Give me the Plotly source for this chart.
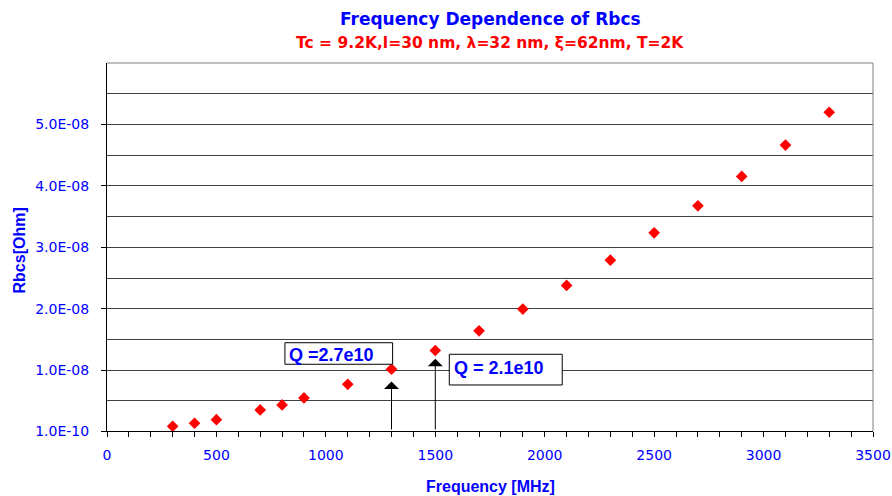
import plotly.graph_objects as go

# Surface resistance vs frequency
freq_mhz = [300, 400, 500, 700, 800, 900, 1100, 1300, 1500, 1700, 1900,
            2100, 2300, 2500, 2700, 2900, 3100, 3300]
rbcs_ohm = [8.7e-10, 1.36e-9, 1.94e-9, 3.53e-9, 4.34e-9, 5.48e-9, 7.7e-9,
            1.016e-8, 1.32e-8, 1.64e-8, 1.995e-8, 2.38e-8, 2.79e-8,
            3.235e-8, 3.676e-8, 4.154e-8, 4.664e-8, 5.198e-8]

y_tickvals = [1e-10, 1e-8, 2e-8, 3e-8, 4e-8, 5e-8]
y_ticktext = ["1.0E-10", "1.0E-08", "2.0E-08", "3.0E-08", "4.0E-08", "5.0E-08"]
y_halfgrid = [0.5e-8, 1.5e-8, 2.5e-8, 3.5e-8, 4.5e-8, 5.5e-8]

# Quality-factor callouts: arrow frequency and tip, box extents, label anchor
q_labels = ["Q =2.7e10", "Q = 2.1e10"]
q_freq = [1300, 1500]
q_tip = [0.814e-8, 1.185e-8]
q_box_x0 = [813, 1564]
q_box_x1 = [1305, 2080]
q_box_y0 = [1.096e-8, 0.759e-8]
q_box_y1 = [1.447e-8, 1.259e-8]
q_text_x = [826, 1580]
q_text_y = [1.255e-8, 1.043e-8]

ARIAL = "Arial, Liberation Sans, sans-serif"
WIDE = "DejaVu Sans, sans-serif"
BLUE = "#0000ff"
RED = "#ff0000"
GRID = "#404040"

fig = go.Figure()
fig.add_trace(go.Scatter(
    x=freq_mhz, y=rbcs_ohm, mode="markers",
    marker=dict(symbol="diamond", size=9, color=RED, line=dict(width=0)),
    showlegend=False, hoverinfo="x+y",
))

fig.update_layout(
    width=892, height=496,
    margin=dict(l=107, r=19, t=63, b=65),
    paper_bgcolor="white", plot_bgcolor="white",
    font=dict(family=ARIAL, color=BLUE, size=14),
    showlegend=False,
)

fig.update_xaxes(
    range=[0, 3500], tickmode="linear", tick0=0, dtick=500,
    automargin=False,
    showgrid=False, zeroline=False,
    showline=True, linecolor="black", linewidth=1,
    ticks="outside", ticklen=5, tickcolor="black", tickwidth=1,
    ticklabelstandoff=6,
    tickfont=dict(family=WIDE, size=14, color=BLUE),
    minor=dict(tickmode="linear", tick0=0, dtick=100, ticks="outside",
               ticklen=5, tickcolor="black", showgrid=False),
)

fig.update_yaxes(
    range=[1e-10, 6e-8], tickmode="array",
    tickvals=y_tickvals, ticktext=y_ticktext,
    automargin=False,
    showgrid=True, gridcolor=GRID, gridwidth=1, zeroline=False,
    showline=True, linecolor="black", linewidth=1,
    ticks="outside", ticklen=5, tickcolor="black", tickwidth=1,
    ticklabelstandoff=9,
    tickfont=dict(family=WIDE, size=14, color=BLUE),
    minor=dict(tickmode="array", tickvals=y_halfgrid, ticks="",
               showgrid=True, gridcolor=GRID, gridwidth=1),
)

# Top and right frame edges
fig.add_shape(type="line", xref="paper", yref="paper", x0=0, x1=1, y0=1, y1=1,
              line=dict(color="#808080", width=1))
fig.add_shape(type="line", xref="paper", yref="paper", x0=1, x1=1, y0=0, y1=1,
              line=dict(color="#808080", width=1))

# Titles
fig.add_annotation(text="<b>Frequency Dependence of Rbcs</b>", xref="paper", yref="paper",
                   x=0.5, y=1.1196, xanchor="center", yanchor="middle", showarrow=False,
                   font=dict(family=WIDE, size=17, color=BLUE))
fig.add_annotation(text="<b>Tc = 9.2K,l=30 nm, \u03bb=32 nm, \u03be=62nm, T=2K</b>",
                   xref="paper", yref="paper",
                   x=0.5, y=1.0543, xanchor="center", yanchor="middle", showarrow=False,
                   font=dict(family=WIDE, size=15.5, color=RED))
fig.add_annotation(text="<b>Frequency [MHz]</b>", xref="paper", yref="paper",
                   x=0.5, y=-0.1495, xanchor="center", yanchor="middle", showarrow=False,
                   font=dict(family=ARIAL, size=16, color=BLUE))
fig.add_annotation(text="<b>Rbcs[Ohm]</b>", xref="paper", yref="paper",
                   x=-0.1136, y=0.4905, xanchor="center", yanchor="middle",
                   textangle=-90, showarrow=False,
                   font=dict(family=ARIAL, size=16, color=BLUE))

# Arrows pointing up at the two marked frequencies
for f, tip in zip(q_freq, q_tip):
    fig.add_annotation(x=f, y=tip, ax=f, ay=1e-10, xref="x", yref="y",
                       axref="x", ayref="y", text="", showarrow=True,
                       arrowhead=1, arrowsize=2.5, arrowwidth=1, arrowcolor="black")

# Boxed Q labels
for x0, x1, y0, y1 in zip(q_box_x0, q_box_x1, q_box_y0, q_box_y1):
    fig.add_shape(type="rect", xref="x", yref="y", x0=x0, x1=x1, y0=y0, y1=y1,
                  fillcolor="white", line=dict(color="black", width=1), layer="above")

for lab, tx, ty in zip(q_labels, q_text_x, q_text_y):
    fig.add_annotation(x=tx, y=ty, xref="x", yref="y", xanchor="left", yanchor="middle",
                       text=f"<b>{lab}</b>", showarrow=False, borderpad=0,
                       font=dict(family=ARIAL, size=18, color=BLUE))

fig.write_html("out.html")
